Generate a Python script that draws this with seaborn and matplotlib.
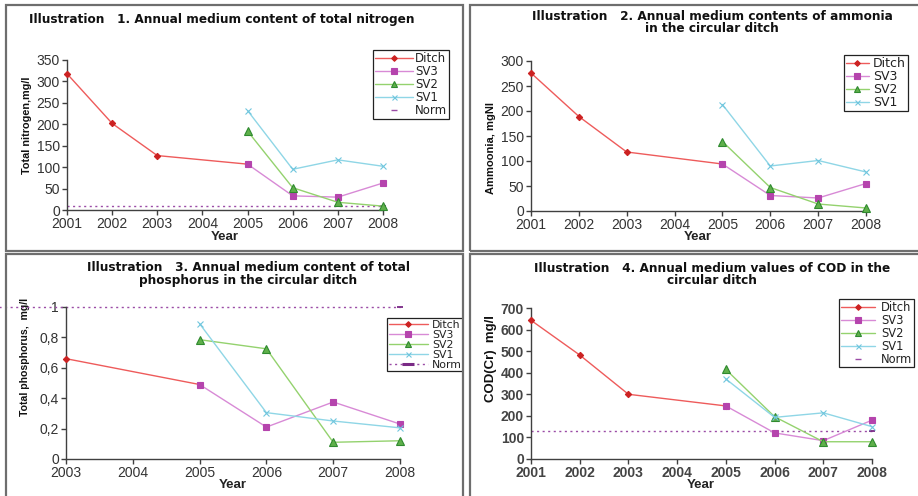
import matplotlib
matplotlib.use("Agg")
import matplotlib.pyplot as plt
from matplotlib.patches import Rectangle
from matplotlib.lines import Line2D
import seaborn as sns

# ---------------- data ----------------
years_ditch = [2001, 2002, 2003, 2005]
years_sv = [2005, 2006, 2007, 2008]
years_ticks = [2001, 2002, 2003, 2004, 2005, 2006, 2007, 2008]

# Illustration 1 - total nitrogen
n_ditch = [318, 202, 127, 107]
n_sv3 = [107, 33, 30, 63]
n_sv2 = [184, 52, 18, 9]
n_sv1 = [232, 95, 117, 102]
n_norm = 10
n_norm_years = [2001, 2008]

# Illustration 2 - ammonia
a_ditch = [276, 189, 118, 94]
a_sv3 = [94, 31, 26, 55]
a_sv2 = [139, 47, 14, 6]
a_sv1 = [213, 90, 101, 78]

# Illustration 3 - total phosphorus
p_years_ditch = [2003, 2005]
p_ditch = [0.66, 0.49]
p_sv3 = [0.49, 0.21, 0.375, 0.23]
p_sv2 = [0.785, 0.725, 0.11, 0.12]
p_sv1 = [0.89, 0.305, 0.25, 0.205]
p_norm = 1.0
p_norm_years = [2002, 2008]
p_ticks_x = [2003, 2004, 2005, 2006, 2007, 2008]
p_ticks_y = [0, 0.2, 0.4, 0.6, 0.8, 1.0]
p_ticklabels_y = ["0", "0,2", "0,4", "0,6", "0,8", "1"]

# Illustration 4 - COD
c_ditch = [643, 482, 300, 246]
c_sv3 = [246, 121, 85, 180]
c_sv2 = [415, 196, 80, 80]
c_sv1 = [371, 193, 214, 150]
c_norm = 130
c_norm_years = [2001, 2008]

titles = [
    "Illustration   1. Annual medium content of total nitrogen",
    "Illustration   2. Annual medium contents of ammonia\nin the circular ditch",
    "Illustration   3. Annual medium content of total\nphosphorus in the circular ditch",
    "Illustration   4. Annual medium values of COD in the\ncircular ditch",
]
ylabels = ["Total nitrogen,mg/l", "Ammoonia, mgNl", "Total phosphorus,  mg/l", "COD(Cr)  mg/l"]

# ---------------- style ----------------
sns.set_style("white")
plt.rcParams["font.family"] = ["Liberation Sans", "DejaVu Sans"]

W, H = 918, 496
fig = plt.figure(figsize=(W / 100, H / 100), dpi=100)
fig.patch.set_facecolor("white")

NORM_C = "#9b4ca6"
STY = {
    "Ditch": dict(line="#ee5b5b", marker="D", ms=3.2, mfc="#cc2222", mec="#cc2222"),
    "SV3": dict(line="#d88ad6", marker="s", ms=4.5, mfc="#b544ad", mec="#b544ad"),
    "SV2": dict(line="#94d26e", marker="^", ms=5.2, mfc="#5fb04a", mec="#2f8a2f"),
    "SV1": dict(line="#8fd6e6", marker="x", ms=4, mfc="#70c6de", mec="#70c6de"),
}


def add_ax(l, t, r, b):
    return fig.add_axes([l / W, 1 - b / H, (r - l) / W, (b - t) / H])


def style_ax(ax, xlim, ylim, xticks, yticks, yticklabels=None, bold=False):
    ax.set_xlim(xlim)
    ax.set_ylim(ylim)
    ax.set_facecolor("none")
    ax.grid(False)
    for s in ["top", "right"]:
        ax.spines[s].set_visible(False)
    for s in ["left", "bottom"]:
        ax.spines[s].set_color("#404040")
        ax.spines[s].set_linewidth(1)
    ax.set_xticks(xticks)
    ax.set_xticklabels([str(v) for v in xticks])
    ax.set_yticks(yticks)
    if yticklabels is None:
        yticklabels = [str(v) for v in yticks]
    ax.set_yticklabels(yticklabels)
    ax.tick_params(direction="out", length=3.5, width=1, color="#404040",
                   labelsize=10, labelcolor="#333333", pad=1.5,
                   bottom=True, left=True)
    if bold:
        for lab in ax.get_xticklabels() + ax.get_yticklabels():
            lab.set_fontweight("bold")
            lab.set_color("#444444")


def draw(ax, name, x, y):
    s = STY[name]
    sns.lineplot(x=x, y=y, ax=ax, color=s["line"], linewidth=1,
                 marker=s["marker"], markersize=s["ms"], markerfacecolor=s["mfc"],
                 mec=s["mec"], mew=0.8, clip_on=False, legend=False, zorder=3)


def draw_norm(ax, x, val):
    sns.lineplot(x=x, y=[val, val], ax=ax, color=NORM_C, linewidth=1,
                 linestyle=(0, (1.5, 2.5)), clip_on=False, legend=False, zorder=2)
    ax.plot([x[-1]], [val], linestyle="none", marker="_", ms=5, mew=1.3,
            color="#7a2a86", clip_on=False, zorder=2)


def make_legend(ax, names, norm, anchor, handlelength, fontsize, textpad=0.25):
    handles, labels = [], []
    for n in names:
        s = STY[n]
        handles.append(Line2D([], [], color=s["line"], lw=1, marker=s["marker"],
                              ms=s["ms"] * 0.9, mfc=s["mfc"], mec=s["mec"], mew=0.8))
        labels.append(n)
    if norm == "dash":
        handles.append(Line2D([], [], linestyle="none", marker="_", ms=5,
                              mew=1, color=NORM_C))
        labels.append("Norm")
    elif norm == "line":
        handles.append(Line2D([], [], color=NORM_C, lw=1, linestyle=(0, (1.5, 2.5)),
                              marker="_", ms=8, mew=2.2, mec="#7a2a86"))
        labels.append("Norm")
    leg = ax.legend(handles, labels, loc="upper left",
                    bbox_to_anchor=(anchor[0] / W, 1 - anchor[1] / H),
                    bbox_transform=fig.transFigure, frameon=True, fancybox=False,
                    edgecolor="#222222", framealpha=1, facecolor="white",
                    prop={"family": "DejaVu Sans", "size": fontsize},
                    handlelength=handlelength, handletextpad=textpad,
                    labelspacing=0.0, borderpad=0.15, borderaxespad=0)
    leg.get_frame().set_linewidth(0.9)
    for t in leg.get_texts():
        t.set_color("#222222")
    return leg


def set_labels(ax, ylabel, ysize, ypos, xpos, axbox):
    l, t, r, b = axbox
    ax.set_ylabel(ylabel, fontsize=ysize, fontweight="bold",
                  family=["Liberation Sans Narrow", "Liberation Sans"],
                  va="center", ha="center", color="#111111")
    ax.yaxis.set_label_coords((ypos[0] - l) / (r - l), (b - ypos[1]) / (b - t))
    ax.set_xlabel("Year", fontsize=9.5, fontweight="bold", va="center",
                  ha="center", color="#222222")
    ax.xaxis.set_label_coords((xpos[0] - l) / (r - l), (b - xpos[1]) / (b - t))


# ---------------- panel 1 ----------------
box1 = (67, 60, 383, 210)
ax1 = add_ax(*box1)
draw_norm(ax1, n_norm_years, n_norm)
draw(ax1, "Ditch", years_ditch, n_ditch)
draw(ax1, "SV3", years_sv, n_sv3)
draw(ax1, "SV2", years_sv, n_sv2)
draw(ax1, "SV1", years_sv, n_sv1)
style_ax(ax1, (2001, 2008), (0, 350), years_ticks, list(range(0, 351, 50)))
set_labels(ax1, ylabels[0], 7.8, (27, 125.5), (225, 237), box1)
make_legend(ax1, ["Ditch", "SV3", "SV2", "SV1"], "dash", (373, 50), 3.2, 8.5, 0.2)

# ---------------- panel 2 ----------------
box2 = (531, 61, 866, 211)
ax2 = add_ax(*box2)
draw(ax2, "Ditch", years_ditch, a_ditch)
draw(ax2, "SV3", years_sv, a_sv3)
draw(ax2, "SV2", years_sv, a_sv2)
draw(ax2, "SV1", years_sv, a_sv1)
style_ax(ax2, (2001, 2008), (0, 300), years_ticks, list(range(0, 301, 50)))
set_labels(ax2, ylabels[1], 8.0, (491, 148.5), (698, 237), box2)
make_legend(ax2, ["Ditch", "SV3", "SV2", "SV1"], None, (844, 55), 1.85, 9, 0.3)

# ---------------- panel 3 ----------------
box3 = (66, 307, 400, 459)
ax3 = add_ax(*box3)
draw_norm(ax3, p_norm_years, p_norm)
draw(ax3, "Ditch", p_years_ditch, p_ditch)
draw(ax3, "SV3", years_sv, p_sv3)
draw(ax3, "SV2", years_sv, p_sv2)
draw(ax3, "SV1", years_sv, p_sv1)
style_ax(ax3, (2003, 2008), (0, 1), p_ticks_x, p_ticks_y, p_ticklabels_y)
set_labels(ax3, ylabels[2], 7.6, (25, 357), (233, 485), box3)
make_legend(ax3, ["Ditch", "SV3", "SV2", "SV1"], "line", (387, 318), 3.6, 7.8, 0.4)

# ---------------- panel 4 ----------------
box4 = (531, 308, 872, 459)
ax4 = add_ax(*box4)
draw_norm(ax4, c_norm_years, c_norm)
draw(ax4, "Ditch", years_ditch, c_ditch)
draw(ax4, "SV3", years_sv, c_sv3)
draw(ax4, "SV2", years_sv, c_sv2)
draw(ax4, "SV1", years_sv, c_sv1)
style_ax(ax4, (2001, 2008), (0, 700), years_ticks, list(range(0, 701, 100)), bold=True)
set_labels(ax4, ylabels[3], 9.5, (491, 358), (701, 485), box4)
make_legend(ax4, ["Ditch", "SV3", "SV2", "SV1"], "dash", (839, 299), 3.0, 8.3, 0.5)

# ---------------- titles ----------------
tkw = dict(ha="center", va="center", fontsize=8.7, fontweight="bold",
           family="DejaVu Sans", color="#111111", linespacing=0.95)
fig.text(222 / W, 1 - 20 / H, titles[0], **tkw)
fig.text(712 / W, 1 - 22.5 / H, titles[1], **tkw)
fig.text(248 / W, 1 - 274 / H, titles[2], **tkw)
fig.text(712 / W, 1 - 274.5 / H, titles[3], **tkw)

# ---------------- panel frames ----------------
# white strip hiding overflow of panel 3 legend
fig.patches.append(Rectangle((463.5 / W, 0), 6 / W, 1 - 254 / H,
                             transform=fig.transFigure, fc="white", ec="none", zorder=5))
frames = [(6, 5, 463, 251), (470, 5, 930, 251), (6, 254, 463, 510), (470, 254, 930, 510)]
for (l, t, r, b) in frames:
    fig.patches.append(Rectangle((l / W, 1 - b / H), (r - l) / W, (b - t) / H,
                                 transform=fig.transFigure, fill=False,
                                 ec="#6e6e6e", lw=1.6, zorder=6))

fig.savefig("out.png", dpi=100, facecolor="white")
